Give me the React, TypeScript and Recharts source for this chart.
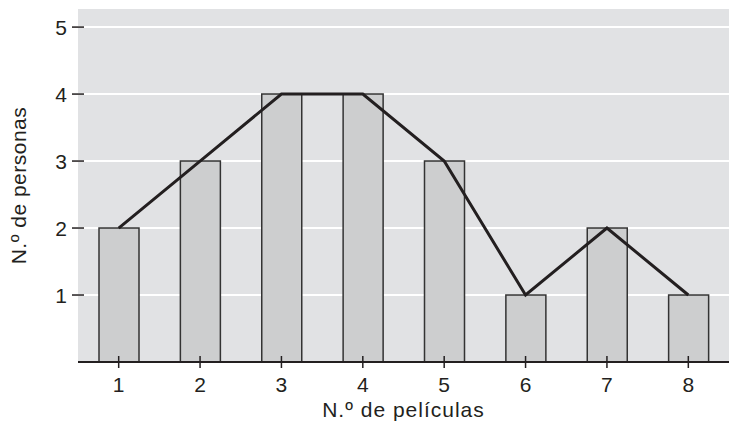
import React from 'react';
import { ComposedChart, Bar, Line, XAxis, YAxis, CartesianGrid } from 'recharts';

// número de películas vistas
const peliculas = ['1', '2', '3', '4', '5', '6', '7', '8'];
// número de personas
const personas = [2, 3, 4, 4, 3, 1, 2, 1];
const yTicks = [1, 2, 3, 4, 5];

const data = peliculas.map((p, i) => ({ p, n: personas[i] }));

const INK = '#231f20';
const FONT = '"Liberation Sans", Arial, sans-serif';

const XTick = (props: any) => {
  const { x, y, payload } = props;
  return (
    <g>
      <line x1={x} x2={x} y1={y - 6} y2={y + 6} stroke={INK} strokeWidth={1.5} />
      <text x={x} y={y + 29.5} textAnchor="middle" fill={INK} fontSize={21} fontFamily={FONT}>
        {payload.value}
      </text>
    </g>
  );
};

const YTick = (props: any) => {
  const { x, y, payload } = props;
  return (
    <g>
      <line x1={x - 6} x2={x + 6} y1={y} y2={y} stroke={INK} strokeWidth={1.5} />
      <text x={x - 11} y={y + 7.5} textAnchor="end" fill={INK} fontSize={21} fontFamily={FONT}>
        {payload.value}
      </text>
    </g>
  );
};

const YLabel = (props: any) => {
  const vb = props.viewBox;
  const cx = 18;
  const cy = vb.y + vb.height / 2;
  return (
    <text
      x={cx}
      y={cy}
      transform={`rotate(-90 ${cx} ${cy})`}
      textAnchor="middle"
      dominantBaseline="central"
      fill={INK}
      fontSize={21}
      letterSpacing={0.5}
      fontFamily={FONT}
    >
      N.º de personas
    </text>
  );
};

const XLabel = (props: any) => {
  const vb = props.viewBox;
  const cx = vb.x + vb.width / 2;
  return (
    <text x={cx} y={416.5} textAnchor="middle" fill={INK} fontSize={21} letterSpacing={1} fontFamily={FONT}>
      N.º de películas
    </text>
  );
};

export default function App() {
  return (
    <div style={{ position: 'fixed', left: 0, top: 0, background: '#fff' }}>
      <ComposedChart
        width={729}
        height={422}
        data={data}
        margin={{ top: 9, right: 0, bottom: 0, left: 0 }}
      >
        <CartesianGrid
          vertical={false}
          fill="#e1e2e4"
          stroke="#ffffff"
          strokeWidth={2}
          horizontalValues={yTicks}
        />
        <XAxis
          dataKey="p"
          height={60}
          tickSize={0}
          tickMargin={0}
          tickLine={false}
          axisLine={{ stroke: INK, strokeWidth: 2 }}
          tick={<XTick />}
          label={<XLabel />}
        />
        <YAxis
          width={78}
          domain={[0, 5.27]}
          ticks={yTicks}
          allowDataOverflow
          tickSize={0}
          tickMargin={0}
          tickLine={false}
          axisLine={false}
          tick={<YTick />}
          label={<YLabel />}
        />
        <Bar
          dataKey="n"
          barSize={40}
          fill="#cdcecf"
          stroke="#333333"
          strokeWidth={1.5}
          isAnimationActive={false}
        />
        <Line
          dataKey="n"
          type="linear"
          stroke={INK}
          strokeWidth={3}
          dot={false}
          activeDot={false}
          isAnimationActive={false}
        />
      </ComposedChart>
    </div>
  );
}
